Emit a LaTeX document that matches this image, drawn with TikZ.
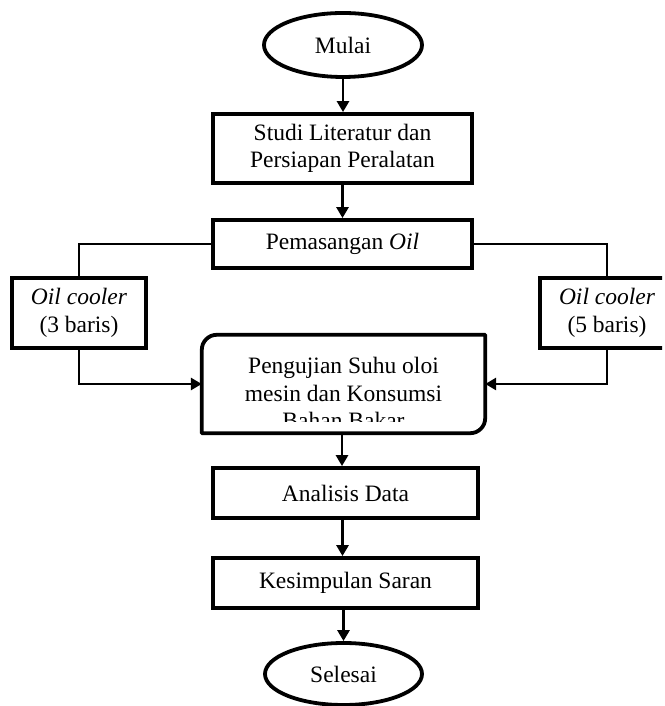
\documentclass[tikz,border=0pt]{standalone}
\usepackage{fontspec}
\setmainfont{Liberation Serif}
\usetikzlibrary{arrows.meta,shapes.geometric}
\tikzset{
  boxstyle/.style={draw, line width=3.8pt, rectangle, inner sep=0pt, align=center, font=\fontsize{23.5}{27.5}\selectfont},
  ovalstyle/.style={draw, line width=3.8pt, ellipse, inner sep=0pt, font=\fontsize{23.5}{27.5}\selectfont},
  conn/.style={line width=2.8pt},
  arr/.style={conn, -{Triangle[length=11pt,width=12pt]}}
}
\begin{document}
\begin{tikzpicture}[x=1pt,y=1pt]
\useasboundingbox (0,0) rectangle (664,706);
\node[ovalstyle, minimum width=158pt, minimum height=64pt] (mulai) at (343,661) {Mulai};
\node[boxstyle, minimum width=259pt, minimum height=69pt] (studi) at (342.5,557.5) {Studi Literatur dan\\Persiapan Peralatan};
\node[boxstyle, minimum width=259pt, minimum height=48pt] (pasang) at (342.5,462) {Pemasangan \textit{Oil}};
\node[boxstyle, minimum width=134pt, minimum height=70pt] (left) at (79,393) {\textit{Oil cooler}\\(3 baris)};
\begin{scope}
\clip (0,0) rectangle (662,706);
\node[boxstyle, minimum width=134pt, minimum height=70pt] (right) at (607,393) {\textit{Oil cooler}\\(5 baris)};
\end{scope}
% big box
\node[minimum width=283pt, minimum height=98pt, inner sep=0pt] (uji) at (343.5,322) {};
\draw[line width=3.8pt, line join=round] (uji.south west) -- ([yshift=-15pt]uji.north west)
  arc[start angle=180, end angle=90, radius=15pt] -- (uji.north east)
  -- ([yshift=15pt]uji.south east) arc[start angle=0, end angle=-90, radius=15pt] -- cycle;
\begin{scope}
\clip (200,284) rectangle (490,360);
\node[align=center, font=\fontsize{23.5}{27.5}\selectfont] (ujitext) at (343.5,313) {Pengujian Suhu oloi\\mesin dan Konsumsi\\Bahan Bakar};
\end{scope}
\node[boxstyle, minimum width=265pt, minimum height=50pt] (analisis) at (345.5,213) {Analisis Data};
\node[boxstyle, minimum width=265pt, minimum height=50pt] (simpul) at (345.5,123) {Kesimpulan Saran};
\node[ovalstyle, minimum width=157pt, minimum height=62pt] (selesai) at (343.5,32) {Selesai};
% connectors
\draw[arr] (mulai.south) -- (mulai.south |- studi.north);
\draw[arr] (studi.south) -- (studi.south |- pasang.north);
\draw[conn] (pasang.west) -| (left.north);
\draw[conn] (pasang.east) -| (right.north);
\draw[arr] (left.south) |- (uji.west);
\draw[arr] (right.south) |- (uji.east);
\draw[arr] ([xshift=-1.5pt]uji.south) -- ([xshift=-1.5pt]uji.south |- analisis.north);
\draw[arr] ([xshift=-3pt]analisis.south) -- ([xshift=-3pt]simpul.north);
\draw[arr] ([xshift=-2pt]simpul.south) -- ([xshift=-2pt]simpul.south |- selesai.north);
\end{tikzpicture}
\end{document}
